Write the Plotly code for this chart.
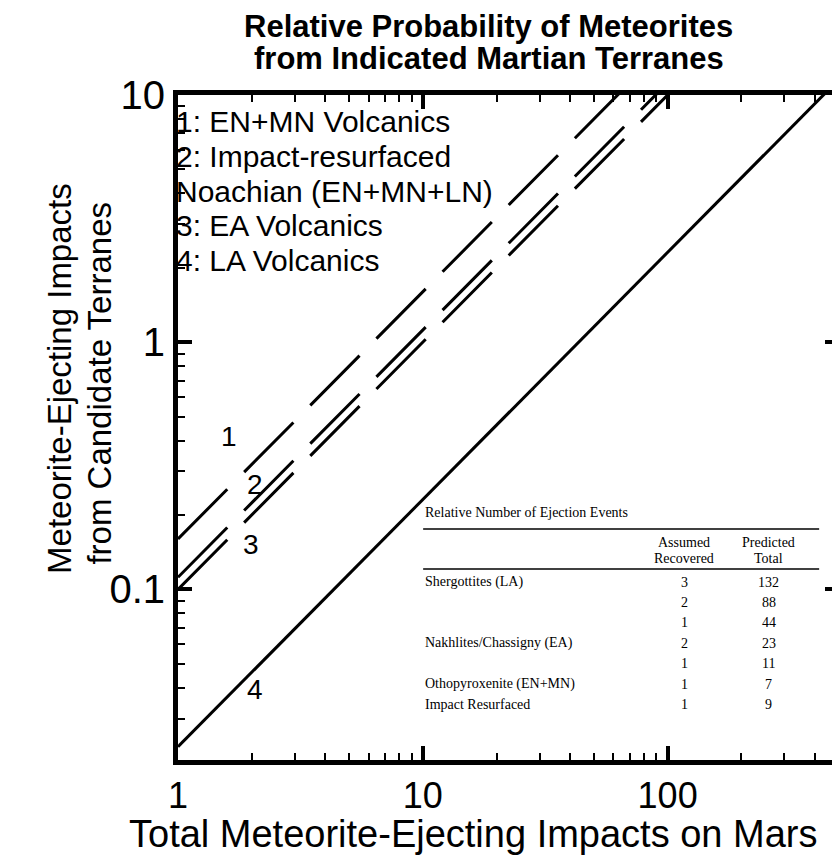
import plotly.graph_objects as go
import numpy as np

# ---- data ----
terrane_ids = ["1", "2", "3", "4"]
legend_lines = ["1: EN+MN Volcanics", "2: Impact-resurfaced", "Noachian (EN+MN+LN)",
                "3: EA Volcanics", "4: LA Volcanics"]
# candidate-terrane impacts per total impact (read at x = 1)
terrane_fraction = [0.16, 0.112, 0.1, 0.0231]
line_dash = ["70px,24px", "70px,24px", "70px,24px", "solid"]
x_span = [1, 600]
x_range_log = [0, 2.70]
y_range_log = [-1.69, 1]

table_rows = ["Shergottites (LA)", "", "", "Nakhlites/Chassigny (EA)", "",
              "Othopyroxenite (EN+MN)", "Impact Resurfaced"]
assumed_recovered = [3, 2, 1, 2, 1, 1, 1]
predicted_total = [132, 88, 44, 23, 11, 7, 9]

W, H = 840, 862
L, R, T, B = 170, 836, 87, 752   # plot-area pixel box

def px(x):
    return (x - L) / (R - L)

def py(y):
    return (B - y) / (B - T)

SANS = "Liberation Sans, Arial, Helvetica"
SERIF = "Liberation Serif, Times New Roman"

fig = go.Figure()
for tid, k, d in zip(terrane_ids, terrane_fraction, line_dash):
    xs = np.array(x_span, dtype=float)
    fig.add_trace(go.Scatter(x=xs, y=xs * k, mode="lines",
                             line=dict(color="black", width=3, dash=d),
                             showlegend=False, name=tid))

axis_common = dict(
    type="log", showline=True, linewidth=5, linecolor="black", mirror="allticks",
    ticks="inside", ticklen=14, tickwidth=4, tickcolor="black",
    showgrid=False, zeroline=False, dtick=1,
    minor=dict(ticks="inside", ticklen=7, tickwidth=2, tickcolor="black",
               dtick="D1", showgrid=False),
)

fig.update_layout(
    width=W, height=H, plot_bgcolor="white", paper_bgcolor="white",
    margin=dict(l=L, r=W - R, t=T, b=H - B),
    xaxis=dict(axis_common, range=x_range_log, ticklabelstandoff=0,
               tickfont=dict(family=SANS, size=36, color="black")),
    yaxis=dict(axis_common, range=y_range_log, ticklabelstandoff=0,
               tickfont=dict(family=SANS, size=40, color="black")),
)

ann = []
def text(x, y, s, size, family=SANS, anchor="center", angle=0):
    ann.append(dict(x=px(x), y=py(y), xref="paper", yref="paper", text=s,
                    showarrow=False, xanchor=anchor, yanchor="middle", textangle=angle,
                    font=dict(family=family, size=size, color="black")))

# title
text(483, 18, "<b>Relative Probability of Meteorites</b>", 31)
text(483, 50, "<b>from Indicated Martian Terranes</b>", 31)
# axis titles
text(468, 826, "Total Meteorite-Ejecting Impacts on Mars", 38)
text(50, 370, "Meteorite-Ejecting Impacts", 33, angle=-90)
text(90, 375, "from Candidate Terranes", 33, angle=-90)

# legend-like text block
for s, yy in zip(legend_lines, [113, 148, 183, 218, 252]):
    text(166, yy, s, 30, anchor="left")
# line labels
for tid, (xx, yy) in zip(terrane_ids, [(221, 429), (248, 476), (244, 536), (248, 681)]):
    text(xx, yy, tid, 28)

# table
tx0, tx1 = 417, 816
ca, cp = 680, 765
text(tx0, 504, "Relative Number of Ejection Events", 14, SERIF, "left")
for s, xx, yy in [("Assumed", ca, 534), ("Predicted", cp, 534),
                  ("Recovered", ca, 550), ("Total", cp, 550)]:
    text(xx, yy, s, 14, SERIF)
for g, a, p, yy in zip(table_rows, assumed_recovered, predicted_total,
                       [574, 594, 614, 635, 655, 676, 696]):
    if g:
        text(tx0, yy, g, 14, SERIF, "left")
    text(ca, yy, str(a), 14, SERIF)
    text(cp, yy, str(p), 14, SERIF)
fig.update_layout(annotations=ann)

for yy in [521, 561]:
    fig.add_shape(type="line", xref="paper", yref="paper",
                  x0=px(tx0), x1=px(tx1), y0=py(yy), y1=py(yy),
                  line=dict(color="black", width=1.5))

fig.write_html("out.html")
